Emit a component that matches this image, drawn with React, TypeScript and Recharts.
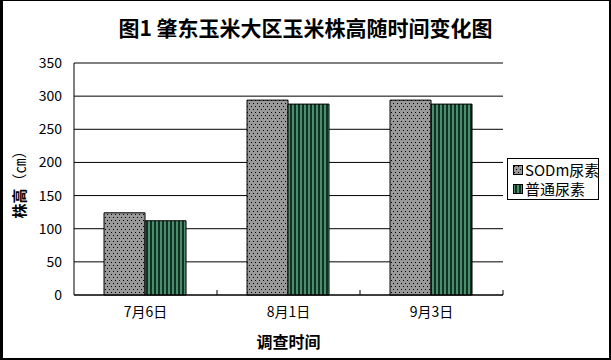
import React from 'react';
import {
    BarChart,
    Bar,
    XAxis,
    YAxis,
    CartesianGrid,
    Legend,
    ReferenceLine
} from 'recharts';

const dates = ['7月6日', '8月1日', '9月3日'];
const sodUrea = [124, 294, 294];
const normalUrea = [112, 288, 288];
const yTicks = [0, 50, 100, 150, 200, 250, 300, 350];
const seriesNames = ['SODm尿素', '普通尿素'];

const data = dates.map((d, i) => ({ date: d, sod: sodUrea[i], normal: normalUrea[i] }));

const FONT = "'Noto Sans CJK SC', sans-serif";
const fills = ['url(#dots)', 'url(#stripes)'];
const X_TICK_GAP = 12; // tickSize + tickMargin between axis line and label

const Patterns = () => (
    <defs>
        <pattern id="dots" width={4} height={6} patternUnits="userSpaceOnUse">
            <rect width={4} height={6} fill="#999999" />
            <rect x={1} y={1} width={1} height={1} fill="#000" />
            <rect x={3} y={4} width={1} height={1} fill="#000" />
        </pattern>
        <pattern id="stripes" width={4} height={4} patternUnits="userSpaceOnUse">
            <rect width={4} height={4} fill="#0f3322" />
            <rect x={0} y={0} width={2} height={4} fill="#4d8c6c" />
        </pattern>
    </defs>
);

// category label plus a short inward tick at the right edge of the category
const DateTick = ({ x, y, payload }: any) => {
    const half = payload.offset || 0;
    const axisY = y - X_TICK_GAP;
    return (
        <g>
            <line x1={x + half} x2={x + half} y1={axisY} y2={axisY - 5} stroke="#000" />
            <text
                x={x}
                y={y}
                dy="0.71em"
                textAnchor="middle"
                fill="#000"
                fontSize={14}
                fontFamily={FONT}
            >
                {payload.value}
            </text>
        </g>
    );
};

const renderLegend = () => (
    <div
        style={{
            marginLeft: 4,
            width: 92,
            border: '1px solid #000',
            background: '#fff',
            padding: '1px 0 1px 5px',
            fontSize: 15,
            lineHeight: '19px',
            fontFamily: FONT,
            color: '#000',
            boxSizing: 'border-box'
        }}
    >
        {seriesNames.map((name, i) => (
            <div key={name} style={{ display: 'flex', alignItems: 'center' }}>
                <svg width={10} height={10} style={{ flex: 'none' }}>
                    <rect x={0.5} y={0.5} width={9} height={9} fill={fills[i]} stroke="#000" />
                </svg>
                <span style={{ marginLeft: 2, whiteSpace: 'nowrap' }}>{name}</span>
            </div>
        ))}
    </div>
);

const YLabel = ({ viewBox }: any) => {
    const cx = viewBox.x + 18;
    const cy = viewBox.y + viewBox.height / 2 + 2;
    return (
        <text
            x={cx}
            y={cy}
            transform={`rotate(-90, ${cx}, ${cy})`}
            textAnchor="middle"
            dominantBaseline="central"
            fontSize={15}
            fontFamily={FONT}
            fill="#000"
        >
            <tspan fontWeight="bold">株高</tspan>
            <tspan>（㎝）</tspan>
        </text>
    );
};

const App: React.FC = () => {
    return (
        <div style={{ position: 'absolute', left: 0, top: 0, width: 611, height: 360, background: '#fff' }}>
            <div
                style={{
                    position: 'absolute',
                    left: 0,
                    top: 12,
                    width: 611,
                    textAlign: 'center',
                    fontFamily: FONT,
                    fontWeight: 'bold',
                    fontSize: 21,
                    lineHeight: '30px',
                    color: '#000'
                }}
            >
                图1 肇东玉米大区玉米株高随时间变化图
            </div>
            <BarChart
                width={611}
                height={360}
                data={data}
                margin={{ top: 63, right: 10, left: 0, bottom: 10 }}
                barCategoryGap="21%"
                barGap={0}
            >
                <Patterns />
                <CartesianGrid xAxisId="cat" yAxisId="left" vertical={false} stroke="#000" />
                <XAxis
                    xAxisId="cat"
                    dataKey="date"
                    height={55}
                    tickLine={false}
                    tickSize={6}
                    tickMargin={6}
                    axisLine={{ stroke: '#000' }}
                    tick={<DateTick />}
                    label={{
                        value: '调查时间',
                        position: 'insideBottom',
                        offset: 2,
                        fill: '#000',
                        fontSize: 16,
                        fontWeight: 'bold',
                        fontFamily: FONT
                    }}
                />
                <YAxis
                    yAxisId="left"
                    width={74}
                    domain={[0, 350]}
                    ticks={yTicks}
                    interval={0}
                    tickLine={false}
                    axisLine={{ stroke: '#000' }}
                    tick={{ fill: '#000', fontSize: 14, fontFamily: FONT }}
                    tickMargin={6}
                    label={<YLabel />}
                />
                <YAxis
                    yAxisId="right"
                    orientation="right"
                    width={0}
                    domain={[0, 350]}
                    tick={false}
                    tickLine={false}
                    axisLine={{ stroke: '#808080' }}
                />
                <ReferenceLine xAxisId="cat" yAxisId="left" y={350} stroke="#808080" />
                <Legend
                    layout="vertical"
                    align="right"
                    verticalAlign="middle"
                    wrapperStyle={{ right: 10, width: 98, top: 158 }}
                    content={renderLegend}
                />
                <Bar
                    xAxisId="cat"
                    yAxisId="left"
                    dataKey="sod"
                    name={seriesNames[0]}
                    fill="url(#dots)"
                    stroke="#000"
                    strokeWidth={1}
                    isAnimationActive={false}
                />
                <Bar
                    xAxisId="cat"
                    yAxisId="left"
                    dataKey="normal"
                    name={seriesNames[1]}
                    fill="url(#stripes)"
                    stroke="#000"
                    strokeWidth={1}
                    isAnimationActive={false}
                />
            </BarChart>
            <div
                style={{
                    position: 'absolute',
                    left: 0,
                    top: 0,
                    width: 611,
                    height: 360,
                    boxSizing: 'border-box',
                    borderStyle: 'solid',
                    borderColor: '#000',
                    borderWidth: '1px 2px 2px 3px',
                    pointerEvents: 'none'
                }}
            />
        </div>
    );
};

export default App;
